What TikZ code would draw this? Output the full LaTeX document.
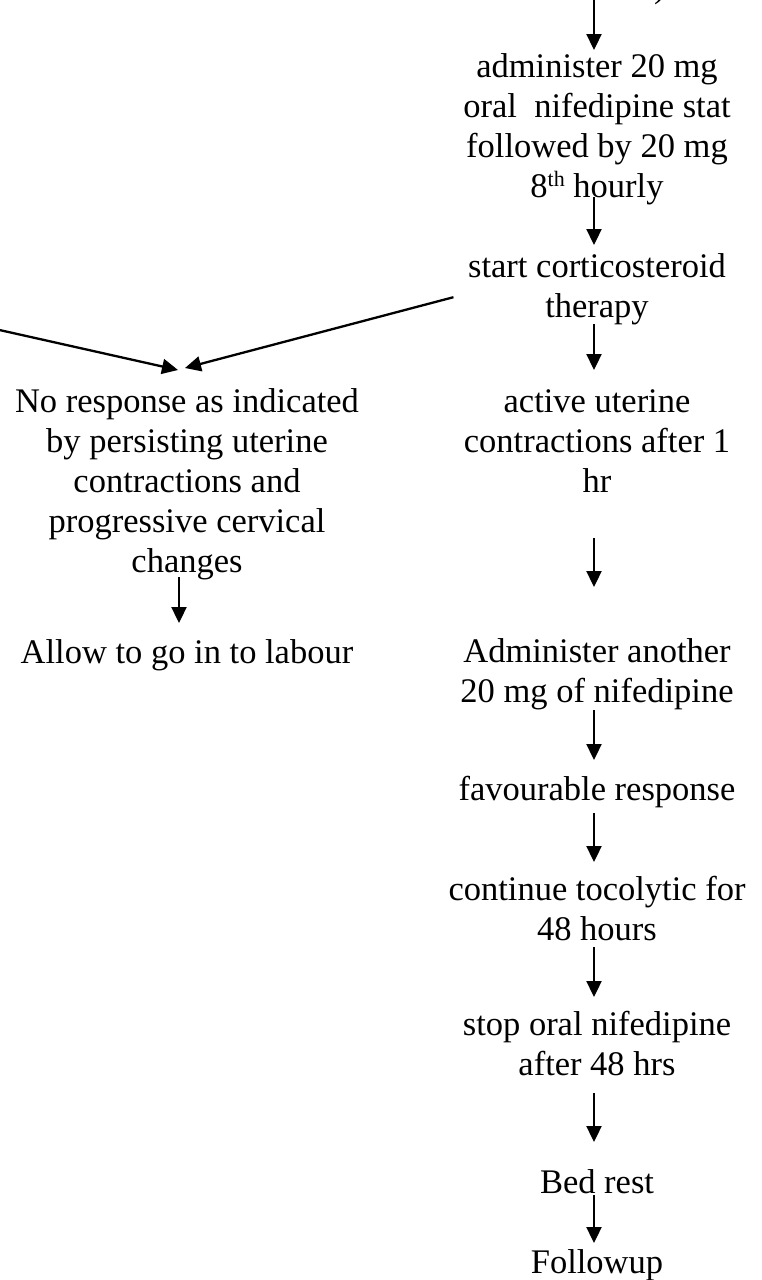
\documentclass[tikz,border=0pt]{standalone}
\usepackage{fontspec}
\setmainfont{Liberation Serif}
\usetikzlibrary{arrows.meta,calc}
\newcommand\myst{\rule[-9pt]{0pt}{39pt}}
\newcommand\mysup[1]{\raisebox{11pt}{\fontsize{22pt}{22pt}\selectfont #1}}
\begin{document}
\begin{tikzpicture}[x=1pt,y=-1pt,
  txt/.style={font=\fontsize{34.5pt}{40pt}\selectfont, align=center, inner sep=0pt, anchor=north},
  arr/.style={line width=2.3pt, -{Triangle[length=16pt,width=15pt]}}]
\useasboundingbox (0,0) rectangle (762,1280);
% right column
\node[txt] (A) at (597,47) {\myst administer 20 mg\\oral\ \ nifedipine stat\\followed by 20 mg\\8\mysup{th} hourly\myst};
\node[txt] (B) at (597,247) {\myst start corticosteroid\\therapy\myst};
\node[txt] (C) at (597,382) {\myst active uterine\\contractions after 1\\hr\myst};
\node[txt] (D) at (597,632) {\myst Administer another\\20 mg of nifedipine\myst};
\node[txt] (E) at (597,770) {\myst favourable response\myst};
\node[txt] (F) at (597,870) {\myst continue tocolytic for\\48 hours\myst};
\node[txt] (G) at (597,1005) {\myst stop oral nifedipine\\after 48 hrs\myst};
\node[txt] (H) at (597,1163) {\myst Bed rest\myst};
\node[txt] (I) at (597,1243) {\myst Followup\myst};
% left column
\node[txt] (L1) at (187,382) {\myst No response as indicated\\by persisting uterine\\contractions and\\progressive cervical\\changes\myst};
\node[txt] (L2) at (187,633) {\myst Allow to go in to labour\myst};
% cropped fragment at top
\node[txt, anchor=base west] (frag) at (654,-3) {)};
% free ends
\coordinate (topin) at (594,-5);
\coordinate (lin) at (-5,329);
% connectors
\draw[arr, shorten >=-3pt] (topin) -- ([xshift=-3pt]A.north);
\draw[arr, shorten <=-9pt, shorten >=2pt] ([xshift=-3pt]A.south) -- ([xshift=-3pt]B.north);
\draw[arr, shorten <=-2pt, shorten >=12pt] ([xshift=-3pt]B.south) -- ([xshift=-3pt]C.north);
\draw[arr, shorten <=37pt, shorten >=45pt] ([xshift=-3pt]C.south) -- ([xshift=-3pt]D.north);
\draw[arr, shorten <=-1pt, shorten >=10pt] ([xshift=-3pt]D.south) -- ([xshift=-3pt]E.north);
\draw[arr, shorten <=4pt, shorten >=8pt] ([xshift=-3pt]E.south) -- ([xshift=-3pt]F.north);
\draw[arr, shorten <=-2pt, shorten >=8pt] ([xshift=-3pt]F.south) -- ([xshift=-3pt]G.north);
\draw[arr, shorten <=9pt, shorten >=21pt] ([xshift=-3pt]G.south) -- ([xshift=-3pt]H.north);
\draw[arr, shorten <=-7pt, shorten >=0pt] ([xshift=-3pt]H.south) -- ([xshift=-3pt]I.north);
\draw[arr, shorten <=-4pt, shorten >=10pt] ([xshift=-8pt]L1.south) -- ([xshift=-8pt]L2.north);
\draw[arr] (lin) -- ([shift={(-9,-12)}]L1.north);
\draw[arr] ([shift={(-14.5,10.5)}]B.west) -- ([shift={(-2,-14)}]L1.north);
\end{tikzpicture}
\end{document}
